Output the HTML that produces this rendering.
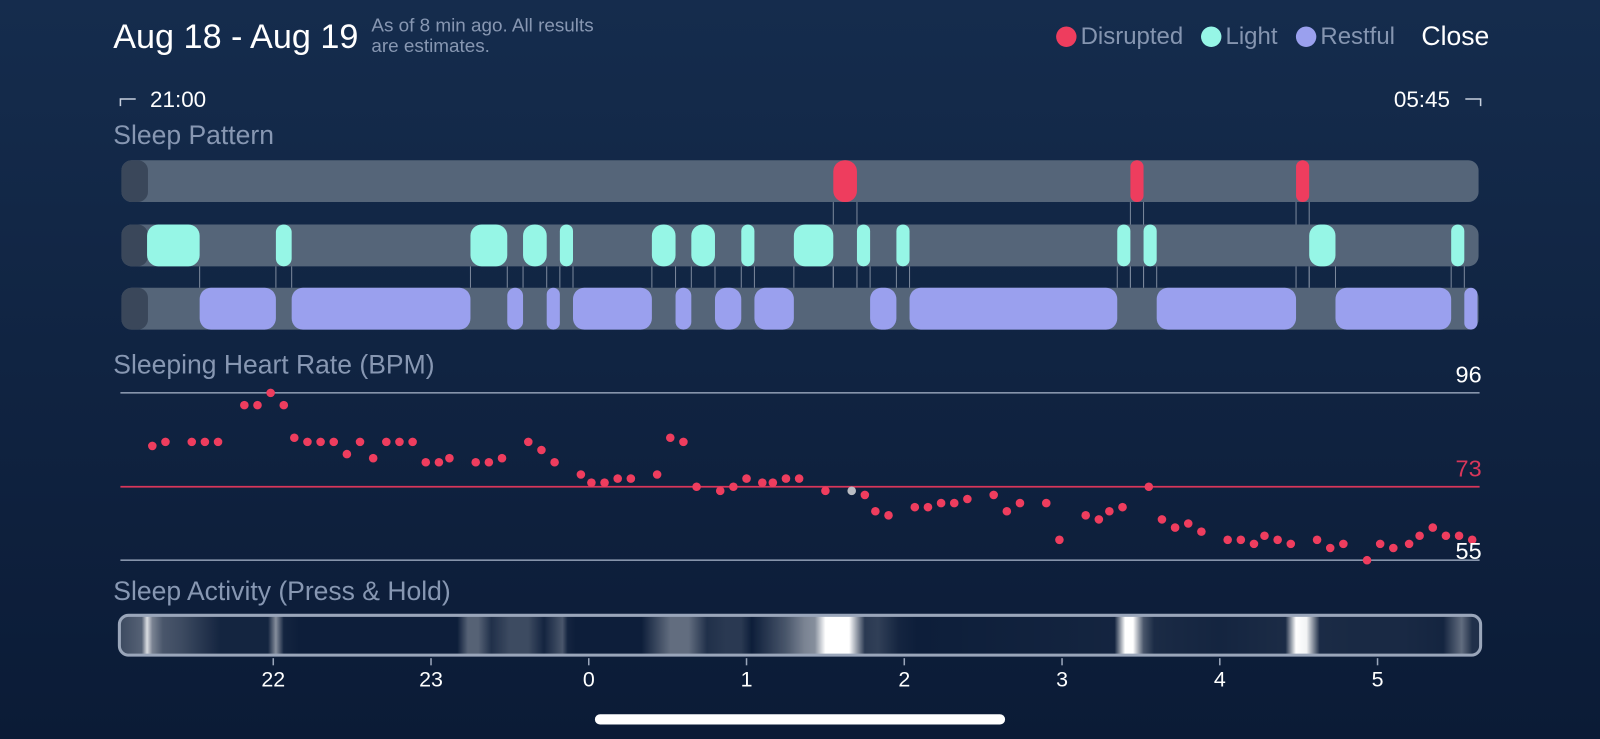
<!DOCTYPE html>
<html><head><meta charset="utf-8">
<style>
html,body{margin:0;padding:0;width:1600px;height:739px;overflow:hidden;background:#10233f;}
svg{display:block;font-family:"Liberation Sans",sans-serif;}
</style></head>
<body>
<svg id="chart" width="1600" height="739" viewBox="0 0 1568 724.2" preserveAspectRatio="none">
<defs>
<linearGradient id="bg" x1="0" y1="0" x2="0" y2="1"><stop offset="0" stop-color="#152c4d"/><stop offset="1" stop-color="#0b1b36"/></linearGradient>
<linearGradient id="act" x1="0" y1="0" x2="1" y2="0" gradientUnits="userSpaceOnUse"></linearGradient>
</defs>
<rect x="0" y="0" width="1568" height="725" fill="url(#bg)"/>
<text x="111" y="47" font-size="33.5" fill="#ffffff">Aug 18 - Aug 19</text>
<text x="364" y="31" font-size="18.5" fill="#8797b2">As of 8 min ago. All results</text>
<text x="364" y="51" font-size="18.5" fill="#8797b2">are estimates.</text>
<g>
<circle cx="1045" cy="36" r="10" fill="#ee3d5e"/>
<text x="1059" y="43" font-size="23.5" fill="#8595b0">Disrupted</text>
<circle cx="1187" cy="36" r="10" fill="#96f6e6"/>
<text x="1201" y="43" font-size="23.5" fill="#8595b0">Light</text>
<circle cx="1280" cy="36" r="10" fill="#9aa0ee"/>
<text x="1294" y="43" font-size="23.5" fill="#8595b0">Restful</text>
</g>
<text x="1393" y="44" font-size="26" fill="#ffffff">Close</text>
<path d="M118 104 V97 H133" stroke="#c7d0de" stroke-width="1.5" fill="none"/>
<text x="147" y="105" font-size="22" fill="#ffffff">21:00</text>
<text x="1421" y="105" font-size="22" fill="#ffffff" text-anchor="end">05:45</text>
<path d="M1436 97 H1451 V104" stroke="#c7d0de" stroke-width="1.5" fill="none"/>
<text x="111" y="141" font-size="26" fill="#8797b2">Sleep Pattern</text>
<text x="111" y="366" font-size="26" fill="#8797b2">Sleeping Heart Rate (BPM)</text>
<text x="111" y="588" font-size="26" fill="#8797b2">Sleep Activity (Press &amp; Hold)</text>
<g id="pattern"></g>
<g id="hr"></g>
<g id="activity"></g>
<g id="axis"></g>
<rect x="583" y="700" width="402" height="10" rx="5" fill="#ffffff"/>
</svg>
<script>
// time in minutes after 21:00
const lightStart = [12, 61, 135, 155, 169, 204, 219, 238, 258, 282, 297, 381, 391, 454, 508];
const lightEnd   = [32, 67, 149, 164, 174, 213, 228, 243, 273, 287, 302, 386, 396, 464, 513];
const restStart  = [32, 67, 149, 164, 174, 213, 228, 243, 287, 302, 396, 464, 513];
const restEnd    = [61, 135, 155, 169, 204, 219, 238, 258, 297, 381, 449, 508, 518];
const disStart   = [273, 386, 449];
const disEnd     = [282, 391, 454];

const hrTimes = [14,19,29,34,39,49,54,59,64,68,73,78,83,88,93,98,103,108,113,118,123,127,137,142,147,157,162,167,177,181,186,191,196,206,211,216,221,230,235,240,246,250,255,260,270,280,285,289,294,304,309,314,319,324,334,339,344,354,359,369,374,378,383,393,398,403,408,413,423,428,433,437,442,447,457,462,467,476,481,486,492,496,501,506,511,516];
const hrValues = [83,84,84,84,84,93,93,96,93,85,84,84,84,81,84,80,84,84,84,79,79,80,79,79,80,84,82,79,76,74,74,75,75,76,85,84,73,72,73,75,74,74,75,75,72,72,71,67,66,68,68,69,69,70,71,67,69,69,60,66,65,67,68,73,65,63,64,62,60,60,59,61,60,59,60,58,59,55,59,58,59,61,63,61,61,60];
const hrHighlightIndex = 45;
const hrRefValues = [96, 73, 55];
const hrRefLabels = ["96", "73", "55"];

const actTimes = [2, 10, 12, 14, 18, 25, 32, 40, 58, 61, 64, 70, 130, 134, 138, 143, 150, 157, 163, 170, 172, 175, 200, 211, 218, 225, 232, 238, 242, 255, 262, 266, 270, 279, 285, 290, 298, 305, 380, 384, 387, 391, 395, 400, 420, 445, 449, 453, 458, 470, 490, 505, 512, 516, 518];
const actLevels = [0.2, 0.3, 0.85, 0.45, 0.25, 0.2, 0.12, 0.03, 0.03, 0.5, 0.03, 0.0, 0.0, 0.3, 0.3, 0.08, 0.2, 0.2, 0.03, 0.25, 0.03, 0.0, 0.0, 0.35, 0.35, 0.08, 0.12, 0.12, 0.0, 0.25, 0.45, 0.5, 1.0, 1.0, 0.12, 0.15, 0.03, 0.0, 0.03, 1.0, 1.0, 0.25, 0.06, 0.05, 0.03, 0.06, 1.0, 0.95, 0.06, 0.05, 0.05, 0.03, 0.35, 0.08, 0.08];

const tickHours = [22, 23, 0, 1, 2, 3, 4, 5];
const tickLabels = ["22", "23", "0", "1", "2", "3", "4", "5"];

const NS = "http://www.w3.org/2000/svg";
const PX_PER_MIN = 154.6 / 60;
const X0 = 113.2;
function xScale(t) { return X0 + t * PX_PER_MIN; }
function yHR(v) { return 385 + (96 - v) * 4; }
function mk(tag, attrs, parent) {
  const e = document.createElementNS(NS, tag);
  for (const k in attrs) e.setAttribute(k, attrs[k]);
  parent.appendChild(e);
  return e;
}
const TRACK_L = 119, TRACK_R = 1449;

const pat = document.getElementById('pattern');
const rows = [
  {y: 157, s: disStart, e: disEnd, c: '#ee3d5e', n: 'disrupted'},
  {y: 220, s: lightStart, e: lightEnd, c: '#96f6e6', n: 'light'},
  {y: 282, s: restStart, e: restEnd, c: '#9aa0ee', n: 'restful'}
];
const conn = mk('g', {}, pat);


rows.forEach((r) => {
  const tr = mk('rect', {x: TRACK_L, y: r.y, width: TRACK_R - TRACK_L, height: 41, rx: 10, fill: '#556579'}, pat);
  
  
  const cap = mk('rect', {x: TRACK_L, y: r.y, width: 26, height: 41, rx: 10, fill: '#3a475a'}, pat);
  
  
});
function addConn(times, y1, y2) {
  times.forEach(t => {
    const l = mk('line', {x1: xScale(t), x2: xScale(t), y1: y1, y2: y2, stroke: '#7b889b', 'stroke-width': 1}, conn);
    
    
  });
}
addConn(disStart.concat(disEnd), 198, 220);
addConn(disStart.concat(disEnd), 261, 282);
addConn(lightStart.concat(lightEnd).filter(t => t > 15), 261, 282);
rows.forEach(r => {
  r.s.forEach((t, i) => {
    const x1 = xScale(t), x2 = xScale(r.e[i]);
    const w = Math.max(x2 - x1, 6);
    const seg = mk('rect', {x: x1, y: r.y, width: w, height: 41, rx: Math.min(11, w / 2), fill: r.c}, pat);
    
    
  });
});

const hr = document.getElementById('hr');
const refColors = ['#8694ab', '#d8365a', '#8694ab'];
const labelColors = ['#ffffff', '#d8365a', '#ffffff'];
const labelDy = [-10, -10, -1];
hrRefValues.forEach((v, i) => {
  const y = yHR(v);
  const l = mk('line', {x1: 118, x2: 1450, y1: y, y2: y, stroke: refColors[i], 'stroke-width': 1.6}, hr);
  
  
});
hrTimes.forEach((t, i) => {
  const c = mk('circle', {cx: xScale(t), cy: yHR(hrValues[i]), r: 4.2, fill: i === hrHighlightIndex ? '#b9bcc3' : '#ee3d5e'}, hr);
  
  
});
hrRefValues.forEach((v, i) => {
  const tx = mk('text', {x: 1452, y: yHR(v) + labelDy[i], 'font-size': 23, fill: labelColors[i], 'text-anchor': 'end'}, hr);
  tx.textContent = hrRefLabels[i];
  
  
});

const grad = document.getElementById('act');
grad.setAttribute('x1', xScale(0)); grad.setAttribute('x2', xScale(525));
actTimes.forEach((t, i) => {
  mk('stop', {offset: t / 525, 'stop-color': '#ffffff', 'stop-opacity': actLevels[i]}, grad);
});
const act = document.getElementById('activity');
const base = mk('rect', {x: 117, y: 603, width: 1334, height: 39, rx: 9, fill: '#0d1e3a'}, act);


const band = mk('rect', {x: 117, y: 603, width: 1334, height: 39, rx: 9, fill: 'url(#act)', stroke: '#9aa6ba', 'stroke-width': 3}, act);



const ax = document.getElementById('axis');
tickHours.forEach((h, i) => {
  const t = ((h - 21 + 24) % 24) * 60;
  const x = xScale(t);
  const tk = mk('line', {x1: x, x2: x, y1: 645, y2: 652, stroke: '#9aa6ba', 'stroke-width': 1.5}, ax);
  
  
  const lb = mk('text', {x: x, y: 673, 'font-size': 21, fill: '#ffffff', 'text-anchor': 'middle'}, ax);
  lb.textContent = tickLabels[i];
  
  
});
</script>
</body></html>
